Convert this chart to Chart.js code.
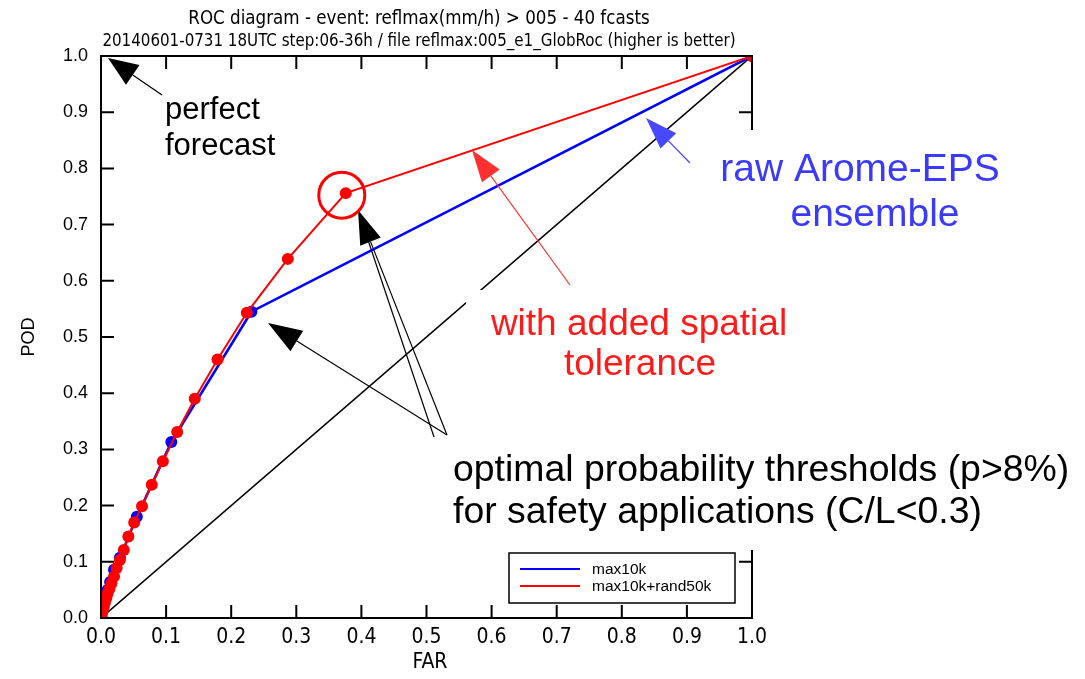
<!DOCTYPE html>
<html>
<head>
<meta charset="utf-8">
<script src="https://cdn.jsdelivr.net/npm/chart.js@4.4.1/dist/chart.umd.min.js"></script>
<style>
html,body{margin:0;padding:0;background:#fff;}
#wrap{width:1085px;height:679px;position:relative;}
</style>
</head>
<body>
<div id="wrap"><canvas id="c" width="1085" height="679"></canvas></div>
<script>
// ---- data ----
const titleLines = ["ROC diagram - event: reflmax(mm/h) > 005 - 40 fcasts",
                    "20140601-0731 18UTC step:06-36h / file reflmax:005_e1_GlobRoc (higher is better)"];
const seriesNames = ["max10k", "max10k+rand50k"];
// FAR / POD of raw ensemble (blue)
const farRaw = [0.000, 0.003, 0.007, 0.010, 0.014, 0.020, 0.029, 0.055, 0.108, 0.231, 1.000];
const podRaw = [0.000, 0.018, 0.036, 0.050, 0.064, 0.086, 0.107, 0.180, 0.313, 0.545, 1.000];
// FAR / POD with spatial tolerance (red)
const farTol = [0.000, 0.001, 0.002, 0.004, 0.006, 0.008, 0.010, 0.013, 0.016, 0.020, 0.024, 0.029, 0.035, 0.042, 0.051, 0.063, 0.078, 0.095, 0.117, 0.144, 0.179, 0.224, 0.287, 0.376, 1.000];
const podTol = [0.000, 0.005, 0.011, 0.019, 0.027, 0.035, 0.043, 0.052, 0.062, 0.074, 0.089, 0.103, 0.121, 0.145, 0.170, 0.199, 0.237, 0.279, 0.331, 0.390, 0.460, 0.543, 0.639, 0.756, 1.000];
const diagFar = [0, 1];
const diagPod = [0, 1];
const tickValues = [0, 0.1, 0.2, 0.3, 0.4, 0.5, 0.6, 0.7, 0.8, 0.9, 1.0];
const optimalIndexTol = 23;  // circled point (p>8%)

const NARROW = "'Liberation Sans Narrow','DejaVu Sans Condensed','Liberation Sans',sans-serif";
const SANS = "'Liberation Sans',Arial,sans-serif";

function pts(xs, ys){ return xs.map((x,i)=>({x:x, y:ys[i]})); }

function arrow(ctx, x1, y1, x2, y2, color, lw, hl, hw){
  const a = Math.atan2(y2-y1, x2-x1);
  const bx = x2 - hl*Math.cos(a), by = y2 - hl*Math.sin(a);
  ctx.save();
  ctx.strokeStyle = color; ctx.fillStyle = color; ctx.lineWidth = lw;
  ctx.beginPath(); ctx.moveTo(x1,y1); ctx.lineTo(bx,by); ctx.stroke();
  ctx.beginPath();
  ctx.moveTo(x2,y2);
  ctx.lineTo(bx + hw/2*Math.sin(a), by - hw/2*Math.cos(a));
  ctx.lineTo(bx - hw/2*Math.sin(a), by + hw/2*Math.cos(a));
  ctx.closePath(); ctx.fill();
  ctx.restore();
}

const decor = {
  id: 'decor',
  afterDraw(chart){
    const ctx = chart.ctx;
    const xs = chart.scales.x, ys = chart.scales.y;
    const L = xs.left, R = xs.right, T = ys.top, B = ys.bottom;
    ctx.save();
    // frame
    ctx.strokeStyle = '#000'; ctx.lineWidth = 2;
    ctx.strokeRect(L, T, R-L, B-T);
    // inward ticks on four sides
    const tl = 13;
    ctx.beginPath();
    tickValues.forEach(v=>{
      if (v <= 0 || v >= 1) return;
      const px = xs.getPixelForValue(v), py = ys.getPixelForValue(v);
      ctx.moveTo(px, B); ctx.lineTo(px, B - tl);
      ctx.moveTo(px, T); ctx.lineTo(px, T + tl);
      ctx.moveTo(L, py); ctx.lineTo(L + tl, py);
      ctx.moveTo(R, py); ctx.lineTo(R - tl, py);
    });
    ctx.stroke();

    // titles
    ctx.fillStyle = '#000';
    ctx.textAlign = 'center'; ctx.textBaseline = 'alphabetic';
    ctx.font = "18.6px " + NARROW;
    ctx.fillText(titleLines[0], 419, 24);
    ctx.font = "16.8px " + NARROW;
    ctx.fillText(titleLines[1], 419, 46);

    // axis titles
    ctx.font = "21px " + NARROW;
    ctx.fillText("FAR", 430, 668);
    ctx.save();
    ctx.translate(34, 337); ctx.rotate(-Math.PI/2);
    ctx.font = "18px " + SANS;
    ctx.fillText("POD", 0, 0);
    ctx.restore();

    // legend
    ctx.lineWidth = 1.5; ctx.strokeStyle = '#000';
    ctx.strokeRect(509, 553, 226, 50);
    ctx.lineWidth = 2;
    ctx.strokeStyle = '#0000ff';
    ctx.beginPath(); ctx.moveTo(520, 569); ctx.lineTo(580, 569); ctx.stroke();
    ctx.strokeStyle = '#ff0000';
    ctx.beginPath(); ctx.moveTo(520, 586); ctx.lineTo(580, 586); ctx.stroke();
    ctx.font = "15.5px " + SANS; ctx.textAlign = 'left'; ctx.textBaseline = 'middle';
    ctx.fillStyle = '#000';
    ctx.fillText(seriesNames[0], 592, 570);
    ctx.fillText(seriesNames[1], 592, 587);

    // white backgrounds of the pasted annotations
    ctx.fillStyle = '#fff';
    ctx.fillRect(700, 130, 385, 165);
    ctx.fillRect(466, 290, 350, 105);
    ctx.fillRect(445, 395, 640, 155);

    // annotations
    ctx.textBaseline = 'alphabetic'; ctx.textAlign = 'left';
    ctx.fillStyle = '#000';
    ctx.font = "31px " + SANS;
    ctx.fillText("perfect", 165, 119);
    ctx.fillText("forecast", 165, 155);
    arrow(ctx, 162, 95, 108, 58, '#000', 1.3, 30, 24);

    ctx.fillStyle = '#3a3aff'; ctx.textAlign = 'center';
    ctx.font = "39px " + SANS;
    ctx.fillText("raw Arome-EPS", 860, 181);
    ctx.fillText("ensemble", 875, 226);
    arrow(ctx, 690, 163, 646, 118, '#4848ff', 1.3, 32, 22);

    ctx.fillStyle = '#ff1a1a';
    ctx.font = "37px " + SANS;
    ctx.fillText("with added spatial", 639, 335);
    ctx.fillText("tolerance", 640, 375);
    arrow(ctx, 570, 285, 472, 150, '#ff3030', 1.2, 32, 22);

    ctx.fillStyle = '#000'; ctx.textAlign = 'left';
    ctx.font = "37.4px " + SANS;
    ctx.fillText("optimal probability thresholds (p>8%)", 453, 481);
    ctx.fillText("for safety applications (C/L<0.3)", 453, 523);
    arrow(ctx, 447, 435, 268, 323, '#000', 1.2, 34, 24);
    arrow(ctx, 447, 435, 358, 210, '#000', 1.2, 34, 22);
    ctx.strokeStyle = '#000'; ctx.lineWidth = 1.2;
    ctx.beginPath(); ctx.moveTo(434, 437); ctx.lineTo(368, 240); ctx.stroke();

    // circle round the optimal point of the tolerance curve
    const cx = xs.getPixelForValue(farTol[optimalIndexTol]);
    const cy = ys.getPixelForValue(podTol[optimalIndexTol]);
    ctx.strokeStyle = '#ff0000'; ctx.lineWidth = 3;
    ctx.beginPath(); ctx.arc(cx - 4, cy + 2, 23, 0, Math.PI*2); ctx.stroke();
    ctx.restore();
  }
};

new Chart(document.getElementById('c'), {
  type: 'line',
  data: {
    datasets: [
      { label: seriesNames[1], data: pts(farTol, podTol), borderColor: '#ff0000', backgroundColor: '#ff0000',
        borderWidth: 2, pointRadius: 6, pointBorderWidth: 0, pointBackgroundColor: '#ff0000', tension: 0, clip: 0 },
      { label: seriesNames[0], data: pts(farRaw, podRaw), borderColor: '#0000ff', backgroundColor: '#0000ff',
        borderWidth: 2.6, pointRadius: 6, pointBorderWidth: 0, pointBackgroundColor: '#0000ff', tension: 0, clip: 0 },
      { label: 'diag', data: pts(diagFar, diagPod), borderColor: '#000', borderWidth: 1.6, pointRadius: 0, tension: 0, clip: 0 }
    ]
  },
  options: {
    responsive: false, animation: false, devicePixelRatio: 1,
    layout: { padding: { top: 56, right: 333, left: 0, bottom: 0 } },
    plugins: { legend: { display: false }, title: { display: false }, tooltip: { enabled: false } },
    events: [],
    scales: {
      x: {
        type: 'linear', min: 0, max: 1,
        afterFit(s){ s.height = 61; },
        afterBuildTicks(s){ s.ticks = tickValues.map(v=>({value:v})); },
        grid: { display: false, drawTicks: false },
        border: { display: true, color: '#000', width: 2 },
        ticks: { color: '#000', padding: 7, maxRotation: 0, autoSkip: false,
                 font: { family: NARROW, size: 21 }, callback: v => v.toFixed(1) }
      },
      y: {
        type: 'linear', min: 0, max: 1,
        afterFit(s){ s.width = 101; },
        afterBuildTicks(s){ s.ticks = tickValues.map(v=>({value:v})); },
        grid: { display: false, drawTicks: false },
        border: { display: true, color: '#000', width: 2 },
        ticks: { color: '#000', padding: 13, autoSkip: false,
                 font: { family: SANS, size: 18 }, callback: v => v.toFixed(1) }
      }
    }
  },
  plugins: [decor]
});
</script>
</body>
</html>
